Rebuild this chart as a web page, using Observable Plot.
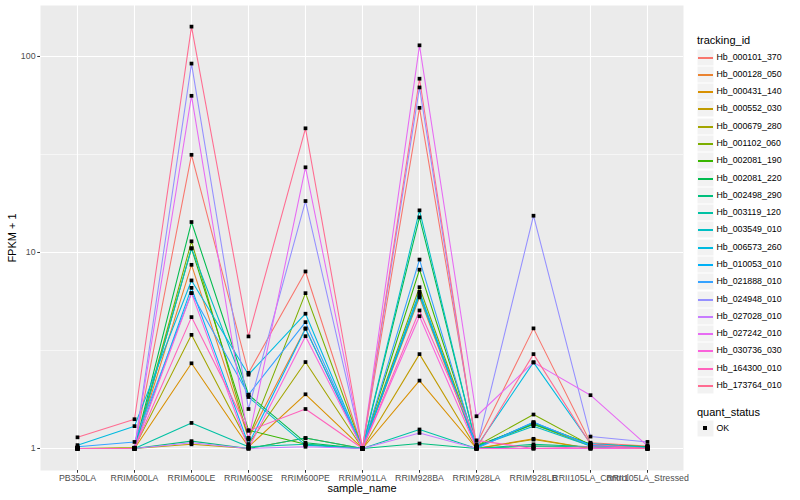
<!DOCTYPE html>
<html><head><meta charset="utf-8">
<script src="https://cdn.jsdelivr.net/npm/d3@7"></script>
<script src="https://cdn.jsdelivr.net/npm/@observablehq/plot@0.6"></script>
<style>
body{margin:0;background:#fff;font-family:"Liberation Sans",Arial,Helvetica,sans-serif;}
#wrap{position:relative;width:800px;height:500px;overflow:hidden;}
#chart{position:absolute;left:0;top:0;}
#legend{position:absolute;left:0;top:0;width:800px;height:500px;pointer-events:none;}
.lt{position:absolute;font-size:11px;color:#000;white-space:nowrap;line-height:1;}
.lk{position:absolute;width:17px;height:17px;background:#F2F2F2;box-shadow:inset 0 0 0 0.5px #fff;}
.ll{position:absolute;left:1px;width:15px;top:8px;height:1.5px;}
.lx{position:absolute;font-size:8.8px;color:#000;white-space:nowrap;line-height:1;}
</style></head><body><div id="wrap"><div id="chart"></div><div id="legend"></div></div>
<script>
const samples = ["PB350LA","RRIM600LA","RRIM600LE","RRIM600SE","RRIM600PE","RRIM901LA","RRIM928BA","RRIM928LA","RRIM928LB","RRII105LA_Control","RRII105LA_Stressed"];
const trackingIds = ["Hb_000101_370","Hb_000128_050","Hb_000431_140","Hb_000552_030","Hb_000679_280","Hb_001102_060","Hb_002081_190","Hb_002081_220","Hb_002498_290","Hb_003119_120","Hb_003549_010","Hb_006573_260","Hb_010053_010","Hb_021888_010","Hb_024948_010","Hb_027028_010","Hb_027242_010","Hb_030736_030","Hb_164300_010","Hb_173764_010"];
const colors = ["#F8766D","#EA8331","#D89000","#C09B00","#A3A500","#7CAE00","#39B600","#00BB4E","#00BF7D","#00C1A3","#00BFC4","#00BAE0","#00B0F6","#35A2FF","#9590FF","#C77CFF","#E76BF3","#FA62DB","#FF62BC","#FF6C91"];
// FPKM + 1 per tracking_id, in sample order
const fpkm = [
  [1.00,1.00,31.5,2.43,8.0,1.0,54.7,1.05,4.1,1.07,1.03],
  [1.00,1.00,8.65,1.13,4.1,1.0,5.9,1.0,1.03,1.02,1.0],
  [1.00,1.00,2.72,1.02,1.89,1.0,2.22,1.0,1.12,1.0,1.0],
  [1.00,1.00,1.05,1.0,1.13,1.0,3.03,1.0,1.11,1.0,1.0],
  [1.00,1.01,3.8,1.05,2.76,1.0,6.15,1.02,1.33,1.03,1.0],
  [1.00,1.00,11.4,1.13,6.2,1.0,6.65,1.03,1.49,1.04,1.02],
  [1.00,1.00,10.5,1.24,1.05,1.0,8.17,1.02,1.35,1.05,1.02],
  [1.00,1.00,14.3,1.88,1.07,1.0,15.1,1.03,1.33,1.05,1.02],
  [1.00,1.00,1.09,1.0,1.13,1.0,1.06,1.0,1.05,1.02,1.0],
  [1.00,1.00,1.35,1.02,1.05,1.0,1.25,1.0,1.03,1.02,1.0],
  [1.00,1.00,10.5,1.83,1.04,1.0,16.4,1.02,1.3,1.03,1.01],
  [1.04,1.30,7.2,2.38,4.87,1.0,6.03,1.02,2.75,1.06,1.01],
  [1.00,1.00,6.6,1.05,4.08,1.0,6.3,1.01,1.36,1.04,1.0],
  [1.02,1.08,6.2,1.88,4.41,1.0,9.2,1.0,1.36,1.04,1.0],
  [1.00,1.00,92,1.59,18.3,1.0,69.5,1.0,15.4,1.15,1.08],
  [1.00,1.00,1.07,1.0,1.02,1.0,1.2,1.0,1.0,1.0,1.0],
  [1.00,1.00,63,1.11,27.2,1.0,114,1.46,2.75,1.87,1.03],
  [1.00,1.00,6.2,1.0,3.74,1.0,4.73,1.0,1.0,1.0,1.0],
  [1.00,1.00,4.68,1.23,1.59,1.0,5.06,1.1,1.0,1.02,1.0],
  [1.14,1.41,142,3.73,43,1.0,77,1.0,3.03,1.05,1.0]
];
const yTicks = [1, 10, 100];
const yMinor = [3.1623, 31.623];
const quantStatus = ["OK"];

const rows = [];
trackingIds.forEach((id, i) => samples.forEach((s, j) => rows.push({id, sample: s, value: fpkm[i][j], status: "OK"})));

const font = '"Liberation Sans",Arial,Helvetica,sans-serif';
const chart = Plot.plot({
  width: 690, height: 500,
  marginLeft: 40, marginRight: 7, marginTop: 5, marginBottom: 30,
  style: {fontFamily: font, fontSize: "8.8px", background: "#fff", overflow: "visible"},
  x: {type: "point", domain: samples, padding: 0.6},
  y: {type: "log", domain: [0.772, 182]},
  color: {domain: trackingIds, range: colors},
  marks: [
    Plot.frame({fill: "#EBEBEB", stroke: null}),
    Plot.ruleY(yMinor, {stroke: "#fff", strokeWidth: 0.55}),
    Plot.ruleY(yTicks, {stroke: "#fff", strokeWidth: 1.1}),
    Plot.ruleX(samples, {stroke: "#fff", strokeWidth: 1.1}),
    Plot.line(rows, {x: "sample", y: "value", z: "id", stroke: "id", strokeWidth: 1.07}),
    Plot.dot(rows, {x: "sample", y: "value", symbol: "square", r: 2.1, fill: "#000", stroke: null}),
    Plot.axisX({tickSize: 2.75, tickPadding: 1.5, fill: "#4D4D4D", stroke: "#333", label: null, fontSize: "8.8px"}),
    Plot.axisY(yTicks, {tickSize: 2.75, tickPadding: 2.2, tickFormat: d3.format("~g"), fill: "#4D4D4D", stroke: "#333", label: null, fontSize: "8.8px"}),
    Plot.axisX({ticks: [], tickSize: 0, label: "sample_name", labelAnchor: "center", labelOffset: 21, labelArrow: "none", fill: "#000", fontSize: "11px"}),
    Plot.axisY({ticks: [], tickSize: 0, label: "FPKM + 1", labelAnchor: "center", labelOffset: 32, labelArrow: "none", fill: "#000", fontSize: "11px"})
  ]
});
document.getElementById("chart").appendChild(chart);

// legend (ggplot style)
const leg = document.getElementById("legend");
function add(cls, x, y, txt) {
  const d = document.createElement("div");
  d.className = cls; d.style.left = x + "px"; d.style.top = y + "px";
  if (txt !== undefined) d.textContent = txt;
  leg.appendChild(d); return d;
}
add("lt", 697, 35, "tracking_id");
trackingIds.forEach((id, i) => {
  const top = Math.round(48.6 + i * 17.28);
  const k = add("lk", 697, top);
  const l = document.createElement("div");
  l.className = "ll"; l.style.background = colors[i]; k.appendChild(l);
  add("lx", 716.5, top + 4.3, id);
});
add("lt", 697, 407, "quant_status");
quantStatus.forEach((q, i) => {
  const top = Math.round(420.4 + i * 17.28);
  const k = add("lk", 697, top);
  const p = document.createElement("div");
  p.style.cssText = "position:absolute;left:6px;top:6px;width:4px;height:4px;background:#000;";
  k.appendChild(p);
  add("lx", 716.5, top + 4.3, q);
});
</script></body></html>
